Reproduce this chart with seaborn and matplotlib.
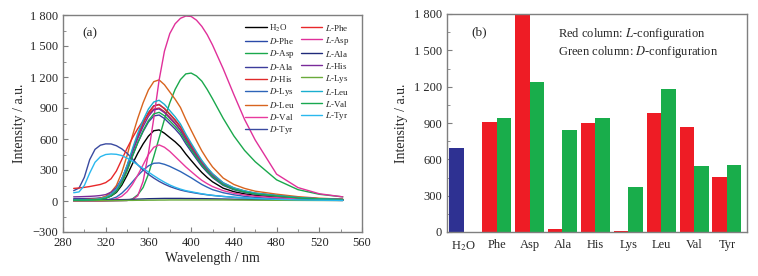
import numpy as np
import pandas as pd
import matplotlib
matplotlib.use("Agg")
import matplotlib.pyplot as plt
from matplotlib.ticker import MultipleLocator
import seaborn as sns

# ---- data: fluorescence spectra (panel a) ----
wavelength = [290, 295, 300, 305, 310, 315, 320, 325, 330, 335, 340, 345, 350, 355, 360, 365,
              370, 375, 380, 385, 390, 395, 400, 405, 410, 415, 420, 430, 440, 450, 460, 480,
              500, 520, 542]

h2o = [10, 10, 10, 12, 14, 17, 28, 48, 83, 152, 248, 359, 462, 552, 628, 680,
       688, 656, 614, 573, 524, 455, 393, 333, 276, 228, 186, 124, 90, 69, 54, 38, 24, 15, 10]
l_phe = [122, 126, 132, 140, 150, 160, 178, 215, 290, 400, 510, 610, 700, 775, 840, 890,
         900, 865, 810, 755, 690, 600, 518, 440, 365, 303, 248, 165, 120, 92, 72, 50, 33, 22, 15]
d_phe = [14, 14, 14, 16, 19, 24, 38, 66, 113, 207, 338, 489, 630, 752, 855, 921,
         935, 893, 837, 780, 714, 620, 536, 455, 376, 312, 254, 169, 122, 94, 73, 52, 33, 21, 14]
l_asp = [0, 0, 0, 0, 0, 0, 1, 2, 3, 4, 5, 15, 50, 190, 460, 800,
         1170, 1450, 1620, 1715, 1768, 1790, 1786, 1750, 1690, 1610, 1510, 1280, 1030, 790, 590,
         260, 130, 70, 40]
d_asp = [0, 0, 0, 0, 0, 0, 1, 2, 3, 4, 5, 20, 60, 130, 260, 430,
         610, 790, 950, 1080, 1175, 1230, 1238, 1210, 1160, 1080, 990, 800, 630, 490, 380,
         205, 110, 65, 40]
l_ala = [8, 8, 8, 9, 9, 10, 10, 11, 12, 13, 14, 16, 18, 20, 22, 23,
         24, 25, 25, 25, 25, 24, 24, 23, 23, 22, 21, 19, 17, 15, 14, 12, 10, 9, 8]
d_ala = [22, 22, 23, 24, 26, 30, 40, 62, 101, 185, 302, 437, 563, 672, 764, 823,
         832, 798, 748, 697, 638, 554, 479, 406, 336, 279, 227, 151, 109, 84, 66, 46, 29, 18, 13]
l_his = [40, 41, 43, 45, 48, 53, 62, 85, 130, 215, 335, 475, 605, 720, 819, 882,
         891, 855, 801, 747, 684, 594, 513, 435, 360, 298, 243, 162, 117, 90, 70, 50, 32, 20, 14]
d_his = [12, 12, 13, 15, 18, 23, 36, 63, 110, 200, 330, 480, 625, 750, 852, 920,
         932, 896, 842, 786, 720, 628, 545, 463, 385, 320, 262, 175, 126, 97, 76, 54, 34, 22, 15]
l_lys = [2, 2, 2, 3, 3, 3, 4, 4, 5, 5, 6, 6, 7, 7, 8, 8,
         9, 9, 10, 10, 10, 10, 10, 10, 10, 10, 10, 10, 9, 9, 8, 7, 6, 5, 5]
d_lys = [3, 3, 4, 4, 5, 7, 10, 20, 38, 75, 125, 185, 245, 298, 340, 365,
         368, 355, 335, 310, 285, 255, 225, 192, 160, 134, 110, 80, 60, 45, 35, 22, 14, 9, 6]
l_leu = [10, 10, 11, 13, 16, 22, 36, 65, 115, 210, 345, 505, 655, 782, 890, 958,
         975, 935, 875, 815, 745, 648, 560, 475, 393, 325, 265, 177, 128, 98, 77, 54, 34, 22, 15]
d_leu = [12, 12, 13, 15, 19, 27, 46, 85, 150, 275, 440, 630, 800, 950, 1075, 1155,
         1172, 1125, 1055, 985, 905, 790, 685, 583, 485, 403, 330, 222, 160, 122, 95, 66, 42, 27, 18]
l_val = [8, 8, 9, 10, 12, 16, 26, 48, 90, 170, 290, 430, 565, 680, 778, 843,
         858, 825, 775, 722, 661, 575, 497, 421, 348, 289, 235, 157, 113, 87, 68, 48, 30, 19, 13]
d_val = [0, 0, 0, 0, 1, 2, 5, 10, 22, 45, 90, 160, 250, 350, 450, 520,
         543, 520, 480, 430, 380, 330, 285, 241, 200, 168, 140, 100, 75, 58, 46, 32, 22, 15, 10]
l_tyr = [80, 88, 150, 270, 375, 428, 450, 455, 452, 440, 415, 385, 350, 315, 280, 245,
         212, 182, 155, 133, 115, 100, 90, 80, 70, 62, 55, 44, 36, 29, 24, 16, 11, 8, 6]
d_tyr = [100, 125, 230, 400, 500, 540, 553, 552, 535, 505, 462, 408, 350, 300, 258, 222,
         190, 163, 140, 122, 106, 94, 84, 75, 67, 60, 54, 44, 36, 29, 23, 15, 10, 7, 5]

# ---- data: peak intensities (panel b) ----
amino_acids = ['Phe', 'Asp', 'Ala', 'His', 'Lys', 'Leu', 'Val', 'Tyr']
h2o_peak = 690
l_peaks = [905, 1795, 25, 900, 10, 980, 865, 455]
d_peaks = [940, 1240, 840, 940, 370, 1180, 545, 555]
bar_labels = ['H$_2$O', 'Phe', 'Asp', 'Ala', 'His', 'Lys', 'Leu', 'Val', 'Tyr']

y_ticks = [-300, 0, 300, 600, 900, 1200, 1500, 1800]
y_tick_labels = ['\u2212300', '0', '300', '600', '900', '1 200', '1 500', '1 800']

# ---- style ----
sns.set_style("ticks")
plt.rcParams['font.family'] = ['Liberation Serif', 'DejaVu Serif']
plt.rcParams['mathtext.fontset'] = 'stix'
plt.rcParams['xtick.direction'] = 'in'
plt.rcParams['ytick.direction'] = 'in'

spine_color = '#7f7f7f'

fig = plt.figure(figsize=(7.58, 2.76), dpi=100)
ax1 = fig.add_axes([63 / 758, 44 / 276, 299 / 758, 217 / 276])
ax2 = fig.add_axes([447 / 758, 44 / 276, 300 / 758, 218 / 276])

# series: (label, values, colour) in legend order
series = [
    ('H$_2$O', h2o, '#000000'),
    ('$\\it{D}$-Phe', d_phe, '#2a4aa8'),
    ('$\\it{D}$-Asp', d_asp, '#1aa84c'),
    ('$\\it{D}$-Ala', d_ala, '#3c3c9c'),
    ('$\\it{D}$-His', d_his, '#e02a2a'),
    ('$\\it{D}$-Lys', d_lys, '#2d64b8'),
    ('$\\it{D}$-Leu', d_leu, '#d8641e'),
    ('$\\it{D}$-Val', d_val, '#e83a9e'),
    ('$\\it{D}$-Tyr', d_tyr, '#3a4aa0'),
    ('$\\it{L}$-Phe', l_phe, '#e8282a'),
    ('$\\it{L}$-Asp', l_asp, '#e0309a'),
    ('$\\it{L}$-Ala', l_ala, '#1f2a7a'),
    ('$\\it{L}$-His', l_his, '#7a2a9a'),
    ('$\\it{L}$-Lys', l_lys, '#6aaa3a'),
    ('$\\it{L}$-Leu', l_leu, '#1aaecf'),
    ('$\\it{L}$-Val', l_val, '#18a850'),
    ('$\\it{L}$-Tyr', l_tyr, '#2ab8ee'),
]

for name, vals, col in series:
    sns.lineplot(x=wavelength, y=vals, color=col, lw=1.0, label=name, ax=ax1)

ax1.set_xlim(280, 560)
ax1.set_ylim(-300, 1800)
ax1.set_xticks(range(280, 561, 40))
ax1.xaxis.set_minor_locator(MultipleLocator(20))
ax1.set_yticks(y_ticks)
ax1.set_yticklabels(y_tick_labels)
ax1.yaxis.set_minor_locator(MultipleLocator(150))
ax1.set_xlabel('Wavelength / nm', fontsize=10, labelpad=2)
ax1.set_ylabel('Intensity / a.u.', fontsize=10, labelpad=3)
ax1.text(0.065, 0.915, '(a)', transform=ax1.transAxes, fontsize=9.5, va='center')
ax1.legend(ncol=2, frameon=False, fontsize=6.5, loc='upper right',
           bbox_to_anchor=(0.975, 0.99), handlelength=2.4, handletextpad=0.3,
           columnspacing=0.6, labelspacing=0.22, borderaxespad=0.2)

# ---- panel b: bars ----
rows = [('H2O', 'L', h2o_peak)]
for aa, lv, dv in zip(amino_acids, l_peaks, d_peaks):
    rows.append((aa, 'L', lv))
    rows.append((aa, 'D', dv))
df = pd.DataFrame(rows, columns=['cat', 'cfg', 'val'])

sns.barplot(data=df, x='cat', y='val', hue='cfg', hue_order=['L', 'D'],
            palette={'L': '#ee1c25', 'D': '#19ad4b'}, width=0.88, saturation=1,
            linewidth=0, legend=False, ax=ax2)
ax2.containers[0][0].set_facecolor('#2e3192')

ax2.set_xlim(-0.51, 8.61)
ax2.set_ylim(0, 1800)
ax2.set_xticks(range(len(bar_labels)))
ax2.set_xticklabels(bar_labels)
ax2.set_yticks(y_ticks[1:])
ax2.set_yticklabels(y_tick_labels[1:])
ax2.yaxis.set_minor_locator(MultipleLocator(150))
ax2.set_xlabel('')
ax2.set_ylabel('Intensity / a.u.', fontsize=10, labelpad=4)
ax2.text(0.08, 0.915, '(b)', transform=ax2.transAxes, fontsize=9.5, va='center')
ax2.text(0.37, 0.91, 'Red column: $\\it{L}$-configuration', transform=ax2.transAxes,
         fontsize=9, va='center')
ax2.text(0.37, 0.825, 'Green column: $\\it{D}$-configuration', transform=ax2.transAxes,
         fontsize=9, va='center')

for ax in (ax1, ax2):
    for sp in ax.spines.values():
        sp.set_visible(True)
        sp.set_color(spine_color)
        sp.set_linewidth(1.0)
    ax.tick_params(which='major', length=3.5, width=0.8, color=spine_color, labelsize=9)
    ax.tick_params(which='minor', length=2, width=0.6, color=spine_color)
    ax.tick_params(top=False, right=False, which='both')
ax2.tick_params(axis='x', which='both', length=0, pad=5)

fig.savefig('out.png', dpi=100)
